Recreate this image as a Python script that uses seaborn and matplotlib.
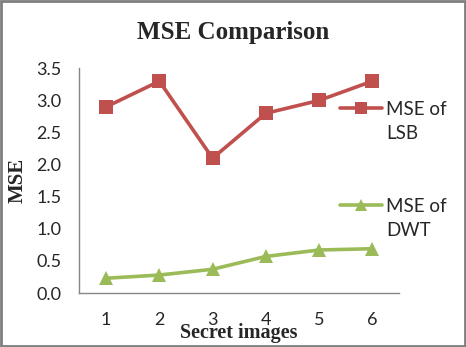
import numpy as np
import pandas as pd
import seaborn as sns
import matplotlib.pyplot as plt
from matplotlib.lines import Line2D
from matplotlib.patches import Rectangle

# values
images = [1, 2, 3, 4, 5, 6]
mse_lsb = [2.9, 3.3, 2.1, 2.8, 3.0, 3.3]
mse_dwt = [0.23, 0.28, 0.37, 0.57, 0.67, 0.69]
series_names = ['LSB', 'DWT']
yticks = [0.0, 0.5, 1.0, 1.5, 2.0, 2.5, 3.0, 3.5]

red = '#C0504D'
green = '#9BBB59'
axis_gray = '#868686'

df = pd.DataFrame({
    'image': images * 2,
    'mse': mse_lsb + mse_dwt,
    'method': ['LSB'] * len(images) + ['DWT'] * len(images),
})

sns.set_style('white')
plt.rcParams['font.family'] = ['Lato', 'DejaVu Sans']

fig = plt.figure(figsize=(4.66, 3.47), dpi=100)
ax = fig.add_axes([0.1706, 0.1556, 0.856 - 0.1706, 0.803 - 0.1556])

sns.lineplot(data=df, x='image', y='mse', hue='method', style='method',
             hue_order=series_names, style_order=series_names,
             palette={'LSB': red, 'DWT': green},
             markers={'LSB': 's', 'DWT': '^'}, dashes=False,
             markersize=10.5, linewidth=2.6, markeredgewidth=0,
             legend=False, ax=ax)

ax.set_xlim(0.5, 6.5)
ax.set_ylim(0, 3.5)
ax.set_yticks(yticks)
ax.set_yticklabels([f'{v:.1f}' for v in yticks])
ax.set_xticks(images)
ax.set_xticks(np.arange(0.5, 7, 1), minor=True)
ax.tick_params(axis='x', which='major', length=0, pad=14, labelsize=13)
ax.tick_params(axis='x', which='minor', length=4, width=1, color=axis_gray, direction='out')
ax.tick_params(axis='y', length=4, width=1, color=axis_gray, direction='out', pad=9, labelsize=13)

for side in ['top', 'right']:
    ax.spines[side].set_visible(False)
for side in ['left', 'bottom']:
    ax.spines[side].set_color(axis_gray)
    ax.spines[side].set_linewidth(1)

serif = ['Liberation Serif', 'DejaVu Serif']
ax.set_xlabel('Secret images', family=serif, fontweight='bold', fontsize=14.5)
ax.xaxis.set_label_coords(0.5, -0.135)
ax.set_ylabel('MSE', family=serif, fontweight='bold', fontsize=15)
ax.yaxis.set_label_coords(-0.163, 0.5)

fig.text(0.5, 1 - 39 / 347, 'MSE Comparison', family=serif, fontweight='bold',
         fontsize=18, ha='center', va='baseline')

# legend: one per series, marker on the first text line
blank = Line2D([], [], color='none')
h_lsb = Line2D([], [], color=red, marker='s', markersize=8.5, linewidth=2.6, markeredgewidth=0)
h_dwt = Line2D([], [], color=green, marker='^', markersize=8.5, linewidth=2.6, markeredgewidth=0)
leg_kw = dict(loc='upper left', frameon=False, fontsize=13.5, borderpad=0, borderaxespad=0,
              handlelength=2.25, handletextpad=0.2, labelspacing=0.38)
leg1 = fig.legend([h_lsb, blank], ['MSE of', 'LSB'],
                  bbox_to_anchor=(340 / 466, 1 - 101 / 347), **leg_kw)
leg2 = fig.legend([h_dwt, blank], ['MSE of', 'DWT'],
                  bbox_to_anchor=(340 / 466, 1 - 198 / 347), **leg_kw)

# outer border
fig.patches.append(Rectangle((0.002, 0.003), 0.996, 0.994, transform=fig.transFigure,
                             fill=False, edgecolor='#7f7f7f', linewidth=2))

fig.savefig('out.png', dpi=100)
